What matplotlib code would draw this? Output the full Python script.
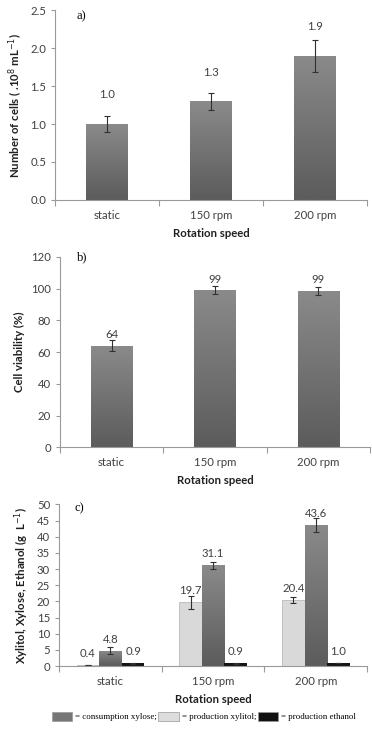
import numpy as np
import matplotlib.pyplot as plt
from matplotlib.patches import Patch
from matplotlib.ticker import FormatStrFormatter

speeds = ["static", "150 rpm", "200 rpm"]

cells = [1.0, 1.3, 1.9]
cells_err = [0.11, 0.11, 0.21]

viability = [64, 99, 98.5]
viability_lbl = ["64", "99", "99"]
viability_err = [3.5, 2.5, 2.5]

xylitol = [0.4, 19.7, 20.4]
xylitol_err = [0.1, 2.0, 1.0]
xylose = [4.8, 31.1, 43.6]
xylose_err = [1.0, 1.2, 2.2]
ethanol = [0.9, 0.9, 1.0]
ethanol_err = [0.1, 0.1, 0.1]

plt.rcParams['font.family'] = ['Lato', 'DejaVu Sans']
SERIF = 'Liberation Serif'
TXT = '#404040'
SPINE = '#9a9a9a'
FS = 8.2


def gradient_bars(ax, bars, top, bottom):
    cmap = plt.matplotlib.colors.LinearSegmentedColormap.from_list('g', [bottom, top])
    grad = np.linspace(0, 1, 64).reshape(-1, 1)
    for b in bars:
        x0, y0 = b.get_x(), b.get_y()
        w, h = b.get_width(), b.get_height()
        im = ax.imshow(grad, cmap=cmap, extent=(x0, x0 + w, y0, y0 + h),
                       origin='lower', aspect='auto', zorder=b.get_zorder())
        im.set_clip_path(b)
        b.set_facecolor('none')


def style(ax, ylabel, ymax, step, fmt):
    for s in ('top', 'right'):
        ax.spines[s].set_visible(False)
    for s in ('left', 'bottom'):
        ax.spines[s].set_color(SPINE)
        ax.spines[s].set_linewidth(0.8)
    ax.set_xlim(-0.5, 2.5)
    ax.set_ylim(0, ymax)
    ax.set_yticks(np.arange(0, ymax + step / 2, step))
    ax.yaxis.set_major_formatter(FormatStrFormatter(fmt))
    ax.set_xticks(range(3))
    ax.set_xticklabels(speeds)
    ax.set_xticks([-0.5, 0.5, 1.5, 2.5], minor=True)
    ax.tick_params(axis='x', which='major', length=0, pad=7, labelsize=FS, labelcolor=TXT)
    ax.tick_params(axis='x', which='minor', length=4, color=SPINE, width=0.8)
    ax.tick_params(axis='y', length=3, color=SPINE, width=0.8, labelsize=FS, labelcolor=TXT)
    ax.set_xlabel("Rotation speed", fontsize=FS, fontweight='bold', color='#202020', labelpad=5)
    ax.set_ylabel(ylabel, fontsize=FS, fontweight='bold', color='#202020')


fig = plt.figure(figsize=(3.72, 7.32), dpi=100)
err_kw = dict(ecolor='#303030', elinewidth=0.8, capsize=2.5, capthick=0.8)

# a) number of cells
ax1 = fig.add_axes([0.148, 0.727, 0.839, 0.259])
x = np.arange(3)
b1 = ax1.bar(x, cells, 0.4, yerr=cells_err, color='#707070', error_kw=err_kw, zorder=2)
gradient_bars(ax1, b1, '#8a8a8a', '#5c5c5c')
for xi, v in zip(x, cells):
    ax1.annotate(f"{v:.1f}", (xi, v), xytext=(0, 21), textcoords='offset points',
                 ha='center', va='center', fontsize=FS, color=TXT)
style(ax1, r"Number of cells ( .10$^{8}$ mL$^{-1}$)", 2.5, 0.5, '%.1f')
ax1.text(0.07, 0.97, "a)", transform=ax1.transAxes, family=SERIF, fontsize=9,
         ha='left', va='center')

# b) cell viability
ax2 = fig.add_axes([0.161, 0.389, 0.834, 0.260])
b2 = ax2.bar(x, viability, 0.4, yerr=viability_err, color='#707070', error_kw=err_kw, zorder=2)
gradient_bars(ax2, b2, '#8a8a8a', '#5c5c5c')
for xi, v, lbl in zip(x, viability, viability_lbl):
    ax2.annotate(lbl, (xi, v), xytext=(0, 8), textcoords='offset points',
                 ha='center', va='center', fontsize=FS, color=TXT)
style(ax2, "Cell viability (%)", 120, 20, '%d')
ax2.text(0.055, 1.0, "b)", transform=ax2.transAxes, family=SERIF, fontsize=9,
         ha='left', va='center')

# c) xylitol, xylose, ethanol
ax3 = fig.add_axes([0.159, 0.090, 0.828, 0.221])
w = 0.22
bx = ax3.bar(x - w, xylitol, w, yerr=xylitol_err, color='#d9d9d9', edgecolor='#b0b0b0',
             linewidth=0.5, error_kw=err_kw, zorder=2)
by = ax3.bar(x, xylose, w, yerr=xylose_err, color='#707070', error_kw=err_kw, zorder=2)
gradient_bars(ax3, by, '#8a8a8a', '#5c5c5c')
be = ax3.bar(x + w, ethanol, w, yerr=ethanol_err, color='#151515', error_kw=err_kw, zorder=2)
for off, vals in ((-w, xylitol), (0, xylose), (w, ethanol)):
    for xi, v in zip(x + off, vals):
        ax3.annotate(f"{v:.1f}", (xi, v), xytext=(0, 8.3), textcoords='offset points',
                     ha='center', va='center', fontsize=FS, color=TXT)
style(ax3, r"Xylitol, Xylose, Ethanol (g  L$^{-1}$)", 50, 5, '%d')
ax3.text(0.05, 0.975, "c)", transform=ax3.transAxes, family=SERIF, fontsize=9,
         ha='left', va='center')

handles = [Patch(facecolor='#777777', edgecolor='#999999', lw=0.5),
           Patch(facecolor='#dcdcdc', edgecolor='#999999', lw=0.5),
           Patch(facecolor='#111111', edgecolor='#999999', lw=0.5)]
labels = ["= consumption xylose;", "= production xylitol;", "= production ethanol"]
fig.legend(handles, labels, loc='center', bbox_to_anchor=(0.548, 0.021), ncol=3,
           frameon=False, prop={'family': SERIF, 'size': 6.4}, handlelength=2.3,
           handleheight=1.1, handletextpad=0.35, columnspacing=0.15)

fig.savefig("out.png", dpi=100)
